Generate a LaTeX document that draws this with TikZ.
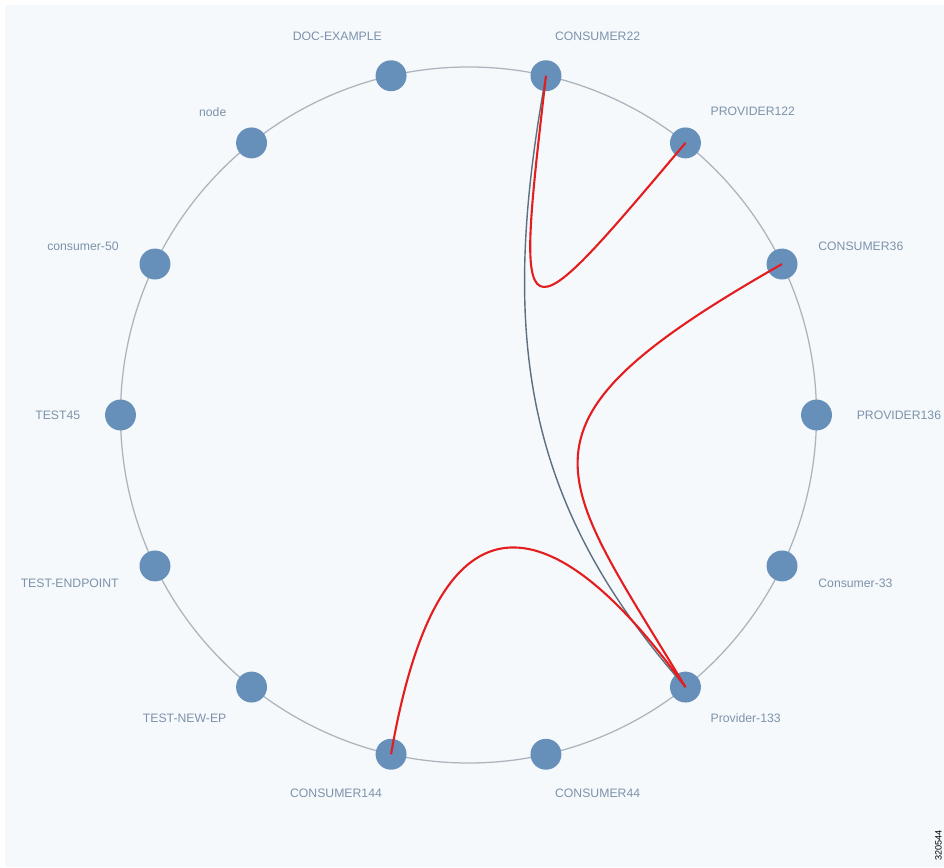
\documentclass[tikz,border=0pt]{standalone}
\usepackage{fontspec}
\setmainfont{Liberation Sans}
\usetikzlibrary{calc}
\definecolor{bgblue}{HTML}{F5F9FC}
\definecolor{ringgray}{HTML}{AEB4BD}
\definecolor{dotblue}{HTML}{6690BA}
\definecolor{lblblue}{HTML}{7D92AA}
\definecolor{linkred}{HTML}{E41E1E}
\definecolor{linkgray}{HTML}{5E6F7E}
\tikzset{
  ep/.style={circle, fill=dotblue, minimum size=22, inner sep=0pt},
  lbl/.style={text=lblblue, font=\fontsize{8.7}{10}\selectfont, inner sep=0pt},
  redlink/.style={linkred, line width=1.5pt},
  graylink/.style={linkgray, line width=1pt},
}
\begin{document}
\begin{tikzpicture}[x=0.025cm, y=0.025cm]
  \useasboundingbox (0,0) rectangle (944,867);
  \fill[bgblue] (5,0) rectangle (944,862);
  \coordinate (c) at (468.5,452);
  \draw[ringgray, line width=0.9pt] (c) circle (348);

  % endpoints on the ring
  \node[ep] (p136) at ($(c)+(0:348)$) {};
  \node[ep] (c36)  at ($(c)+(25.71:348)$) {};
  \node[ep] (p122) at ($(c)+(51.43:348)$) {};
  \node[ep] (c22)  at ($(c)+(77.14:348)$) {};
  \node[ep] (doc)  at ($(c)+(102.86:348)$) {};
  \node[ep] (nd)   at ($(c)+(128.57:348)$) {};
  \node[ep] (c50)  at ($(c)+(154.29:348)$) {};
  \node[ep] (t45)  at ($(c)+(180:348)$) {};
  \node[ep] (tep)  at ($(c)+(205.71:348)$) {};
  \node[ep] (tnep) at ($(c)+(231.43:348)$) {};
  \node[ep] (c144) at ($(c)+(257.14:348)$) {};
  \node[ep] (c44)  at ($(c)+(282.86:348)$) {};
  \node[ep] (p133) at ($(c)+(308.57:348)$) {};
  \node[ep] (c33)  at ($(c)+(334.29:348)$) {};

  % names
  \node[lbl, anchor=west] (lp136) at ($(c)+(0:388)$) {PROVIDER136};
  \node[lbl, anchor=west] (lc36)  at ($(c)+(25.71:388)$) {CONSUMER36};
  \node[lbl, anchor=west] (lp122) at ($(c)+(51.43:388)$) {PROVIDER122};
  \node[lbl, anchor=west] (lc22)  at ($(c)+(77.14:388)$) {CONSUMER22};
  \node[lbl, anchor=east] (ldoc)  at ($(c)+(102.86:388)$) {DOC-EXAMPLE};
  \node[lbl, anchor=east] (lnd)   at ($(c)+(128.57:388)$) {node};
  \node[lbl, anchor=east] (lc50)  at ($(c)+(154.29:388)$) {consumer-50};
  \node[lbl, anchor=east] (lt45)  at ($(c)+(180:388)$) {TEST45};
  \node[lbl, anchor=east] (ltep)  at ($(c)+(205.71:388)$) {TEST-ENDPOINT};
  \node[lbl, anchor=east] (ltnep) at ($(c)+(231.43:388)$) {TEST-NEW-EP};
  \node[lbl, anchor=east] (lc144) at ($(c)+(257.14:388)$) {CONSUMER144};
  \node[lbl, anchor=west] (lc44)  at ($(c)+(282.86:388)$) {CONSUMER44};
  \node[lbl, anchor=west] (lp133) at ($(c)+(308.57:388)$) {Provider-133};
  \node[lbl, anchor=west] (lc33)  at ($(c)+(334.29:388)$) {Consumer-33};

  % links
  \draw[graylink] (c22.center) .. controls (500,537) and (520,367) .. (p133.center);
  \draw[redlink] (c22.center) .. controls (515,522) and (515,522) .. (p122.center);
  \draw[redlink] (c36.center) .. controls (497,441) and (555,397) .. (p133.center);
  \draw[redlink] (c144.center) .. controls (445,427) and (580,327) .. (p133.center);

  \node[rotate=90, anchor=south west, font=\fontsize{6.5}{7}\selectfont, inner sep=0pt] (fig) at (942,6) {320544};
\end{tikzpicture}
\end{document}
